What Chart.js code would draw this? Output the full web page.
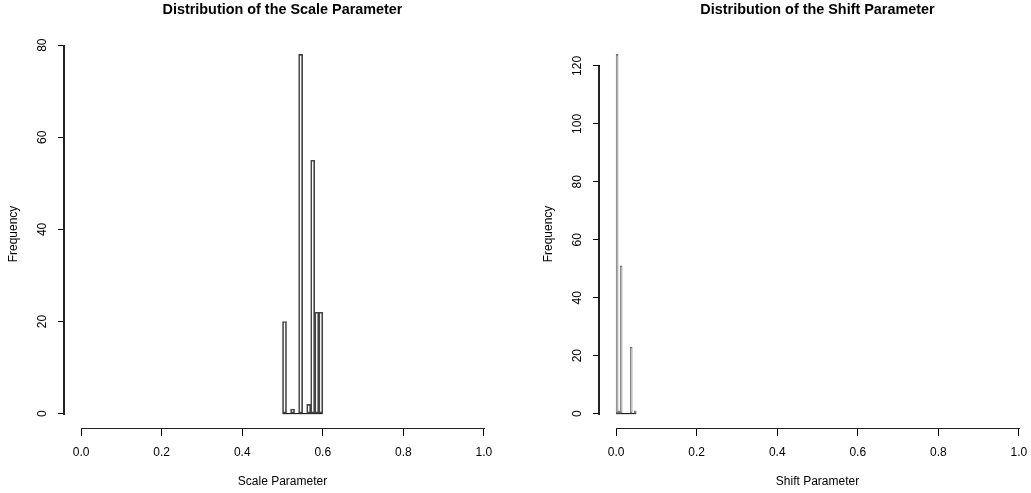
<!DOCTYPE html>
<html>
<head>
<meta charset="utf-8">
<script src="https://cdn.jsdelivr.net/npm/chart.js@4.4.1/dist/chart.umd.min.js"></script>
<style>
  html, body { margin: 0; padding: 0; background: #fff; overflow: hidden; width: 1031px; height: 493px; }
  .panel { position: absolute; top: 0; width: 515px; height: 493px; }
</style>
</head>
<body>
<div class="panel" style="left:0px"><canvas id="c1" width="515" height="493"></canvas></div>
<div class="panel" style="left:535px"><canvas id="c2" width="515" height="493"></canvas></div>
<script>
// ---- Data ----
const scaleBreaks = [0.50, 0.51, 0.52, 0.53, 0.54, 0.55, 0.56, 0.57, 0.58, 0.59, 0.60];
const scaleCounts = [20, 0, 1, 0, 78, 0, 2, 55, 22, 22];
const scaleYTicks = [0, 20, 40, 60, 80];

const shiftBreaks = [0.000, 0.005, 0.010, 0.015, 0.020, 0.025, 0.030, 0.035, 0.040, 0.045, 0.050];
const shiftCounts = [124, 1, 51, 0, 0, 0, 0, 23, 0, 1];
const shiftYTicks = [0, 20, 40, 60, 80, 100, 120];

const xTickValues = [0.0, 0.2, 0.4, 0.6, 0.8, 1.0];

const FONT = "'Liberation Sans', Arial, Helvetica, sans-serif";

// Draws R-style axis lines spanning first..last tick, using the chart's scales
const axisLines = {
  id: 'axisLines',
  afterDraw(chart) {
    const { ctx, chartArea, scales } = chart;
    const x = scales.x, y = scales.y;
    const xt = x.ticks, yt = y.ticks;
    ctx.save();
    ctx.fillStyle = '#222';
    const yb = Math.round(chartArea.bottom);
    const xa = Math.round(x.getPixelForValue(xt[0].value));
    const xb = Math.round(x.getPixelForValue(xt[xt.length - 1].value));
    ctx.fillRect(xa, yb, xb - xa + 1, 1);
    const xl = Math.round(chartArea.left) - 2;
    const y0 = Math.round(y.getPixelForValue(yt[0].value));
    const y1 = Math.round(y.getPixelForValue(yt[yt.length - 1].value));
    ctx.fillRect(xl, y1, 2, y0 - y1 + 1);
    ctx.restore();
  }
};

function makeHist(id, breaks, counts, yTicks, yMax, title, xTitle, yPad, barColor) {
  const bars = counts.map((c, i) => ({ x: (breaks[i] + breaks[i + 1]) / 2, y: c }));
  const base = [{ x: breaks[0], y: 0 }, { x: breaks[breaks.length - 1], y: 0 }];
  const yExp = yMax * 0.04;
  return new Chart(document.getElementById(id), {
    type: 'bar',
    data: {
      datasets: [
        {
          type: 'bar',
          data: bars,
          backgroundColor: 'rgba(255,255,255,0)',
          borderColor: barColor,
          borderWidth: 1,
          borderSkipped: false,
          barPercentage: 1,
          categoryPercentage: 1,
          grouped: false
        },
        {
          type: 'line',
          data: base,
          borderColor: '#000',
          borderWidth: 1,
          pointRadius: 0,
          fill: false
        }
      ]
    },
    options: {
      responsive: false,
      animation: false,
      devicePixelRatio: 1,
      layout: { padding: { left: 0, right: 15, top: 0, bottom: 0 } },
      plugins: {
        legend: { display: false },
        tooltip: { enabled: false },
        title: {
          display: true,
          text: title,
          color: '#000',
          fullSize: false,
          font: { family: FONT, size: 14.4, weight: 'bold', lineHeight: 1.2 },
          padding: { top: 1, bottom: 21.7 }
        }
      },
      scales: {
        x: {
          type: 'linear',
          min: -0.04,
          max: 1.04,
          offset: false,
          afterBuildTicks: (s) => { s.ticks = xTickValues.map(v => ({ value: v })); },
          afterFit: (s) => { s.height = 65; },
          border: { display: false },
          grid: { display: true, drawOnChartArea: false, drawTicks: true, tickLength: 8, color: '#000', lineWidth: 1, offset: false },
          ticks: {
            autoSkip: false, maxRotation: 0, minRotation: 0, padding: 9.8, color: '#000',
            font: { family: FONT, size: 12 },
            callback: (v) => Number(v).toFixed(1)
          },
          title: {
            display: true, text: xTitle, color: '#000',
            font: { family: FONT, size: 12, lineHeight: 1.2 },
            padding: { top: 0, bottom: 4 }
          }
        },
        y: {
          type: 'linear',
          min: -yExp,
          max: yMax + yExp,
          afterBuildTicks: (s) => { s.ticks = yTicks.map(v => ({ value: v })); },
          afterFit: (s) => { s.width = 65; },
          border: { display: false },
          grid: { display: true, drawOnChartArea: false, drawTicks: true, tickLength: 7, color: '#000', lineWidth: 1 },
          ticks: {
            autoSkip: false, minRotation: 90, maxRotation: 90, crossAlign: 'center', padding: yPad, color: '#000',
            font: { family: FONT, size: 12 },
            callback: (v) => String(v)
          },
          title: {
            display: true, text: 'Frequency', color: '#000',
            font: { family: FONT, size: 12, lineHeight: 1.2 },
            padding: { top: 6, bottom: 0 }
          }
        }
      }
    },
    plugins: [axisLines]
  });
}

makeHist('c1', scaleBreaks, scaleCounts, scaleYTicks, Math.max(...scaleCounts),
  'Distribution of the Scale Parameter', 'Scale Parameter', 8.8, '#444');
makeHist('c2', shiftBreaks, shiftCounts, shiftYTicks, Math.max(...shiftCounts),
  'Distribution of the Shift Parameter', 'Shift Parameter', 5.5, '#777');
</script>
</body>
</html>
